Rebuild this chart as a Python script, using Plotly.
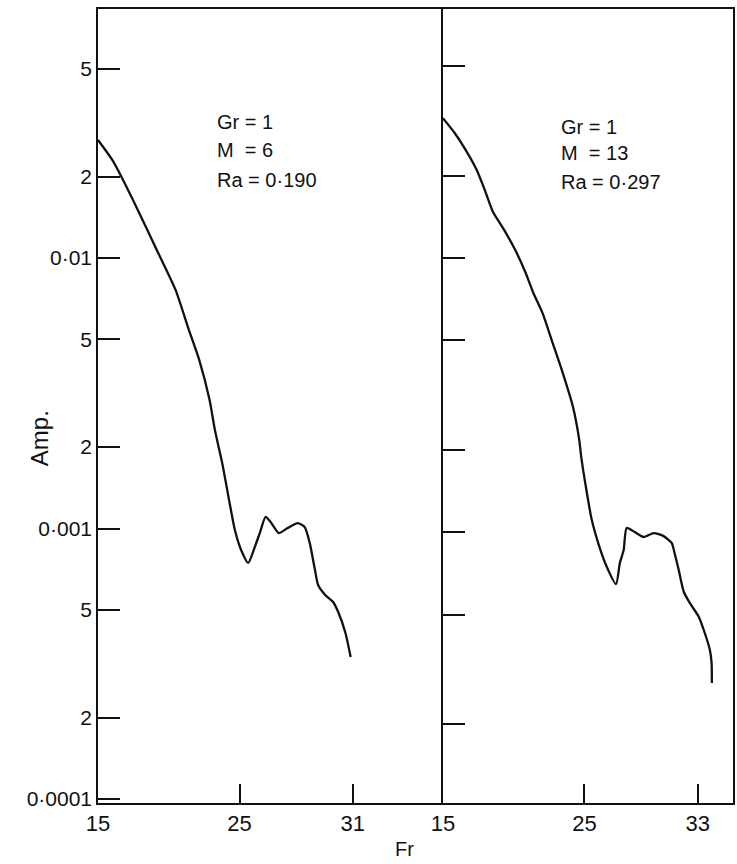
import plotly.graph_objects as go

# ---------------- data ----------------
# Left panel: Gr = 1, M = 6, Ra = 0.190
fr_left = [15.00, 16.02, 16.67, 17.82, 19.26, 20.48, 21.42, 22.15, 22.88,
           23.26, 23.77, 24.30, 24.67, 25.11, 25.61, 26.08, 26.43, 26.84,
           27.19, 27.77, 28.40, 29.10, 29.60, 29.96, 30.33, 30.55, 31.05,
           31.61, 31.97, 32.48, 32.85]
amp_left = [0.0273, 0.0230, 0.0199, 0.01503, 0.01042, 0.00762, 0.00542, 0.00420, 0.00299,
            0.00231, 0.00175, 0.00124, 0.000987, 0.000833, 0.000746, 0.000855, 0.000962, 0.001103,
            0.001057, 0.000962, 0.001004, 0.001047, 0.001013, 0.000883, 0.000702, 0.000618, 0.000568,
            0.000535, 0.000491, 0.000411, 0.000335]

# Right panel: Gr = 1, M = 13, Ra = 0.297
fr_right = [15.00, 15.83, 16.75, 17.39, 17.96, 18.54, 19.25, 20.11, 20.82,
            21.39, 22.04, 22.75, 23.47, 24.19, 24.63, 24.77, 25.14, 25.51,
            26.01, 26.58, 27.23, 27.50, 27.77, 27.98, 28.55, 29.18, 29.89,
            30.59, 31.16, 31.37, 31.66, 32.02, 32.44, 33.08, 33.50, 33.86,
            33.98, 34.00]
amp_right = [0.0324, 0.0286, 0.0241, 0.02094, 0.0177, 0.01472, 0.01285, 0.01069, 0.00889,
             0.00745, 0.00629, 0.00490, 0.00380, 0.00286, 0.00217, 0.00188, 0.00142, 0.00111,
             0.000898, 0.000745, 0.000645, 0.000771, 0.000859, 0.001035, 0.001000, 0.000959, 0.000991,
             0.000966, 0.000912, 0.000837, 0.000726, 0.000604, 0.000551, 0.000490, 0.000428, 0.000371,
             0.000333, 0.000281]

# tick values / labels
y_tickvals = [0.05, 0.02, 0.01, 0.005, 0.002, 0.001, 0.0005, 0.0002, 0.0001]
y_ticktext = ["5", "2", "0·01", "5", "2", "0·001", "5", "2", "0·0001"]
# the printed figure labels its third left-panel tick "31", drawn where 33 falls
x_tickvals_left = [15, 25, 33]
x_ticktext_left = ["15", "25", "31"]
x_tickvals_right = [15, 25, 33]
x_ticktext_right = ["15", "25", "33"]

text_left = ["Gr = 1", "M\u00a0 = 6", "Ra = 0·190"]
text_right = ["Gr = 1", "M\u00a0 = 13", "Ra = 0·297"]
y_title = "Amp."
x_title = "Fr"

# ---------------- figure ----------------
FONT = "Liberation Sans"
INK = "#111111"

fig = go.Figure()
fig.add_trace(go.Scatter(x=fr_left, y=amp_left, mode="lines",
                         line=dict(color=INK, width=2.3, shape="spline", smoothing=0.6),
                         xaxis="x", yaxis="y", showlegend=False, hoverinfo="skip"))
fig.add_trace(go.Scatter(x=fr_right, y=amp_right, mode="lines",
                         line=dict(color=INK, width=2.3, shape="spline", smoothing=0.6),
                         xaxis="x2", yaxis="y2", showlegend=False, hoverinfo="skip"))

split = 346 / 637

common_x = dict(showline=True, linecolor=INK, linewidth=1.5, mirror=True,
                ticks="inside", ticklen=19, tickwidth=1.5, tickcolor=INK,
                showgrid=False, zeroline=False,
                tickfont=dict(family=FONT, size=22, color=INK))
common_y = dict(type="log", showline=True, linecolor=INK, linewidth=1.5,
                ticks="inside", ticklen=22, tickwidth=1.5, tickcolor=INK,
                showgrid=False, zeroline=False,
                tickfont=dict(family=FONT, size=21, color=INK))

fig.update_layout(
    width=737, height=864,
    margin=dict(l=98, r=2, t=9, b=61),
    paper_bgcolor="white", plot_bgcolor="white",
    xaxis=dict(domain=[0, split], range=[15, 15 + 346 / 14.2], anchor="y",
               tickvals=x_tickvals_left, ticktext=x_ticktext_left, **common_x),
    yaxis=dict(domain=[0, 1], range=[-4.0148, -1.0795], anchor="x", mirror=False,
               tickvals=y_tickvals, ticktext=y_ticktext, **common_y),
    xaxis2=dict(domain=[split, 1], range=[15, 15 + 291 / 14.2], anchor="y2",
                tickvals=x_tickvals_right, ticktext=x_ticktext_right, **common_x),
    yaxis2=dict(domain=[0, 1], range=[-3.989, -1.0912], anchor="x2", mirror=True,
                tickvals=y_tickvals, showticklabels=False, **common_y),
)

def px_x(p):
    return (p - 98) / 637

def px_y(p):
    return (803 - p) / 794

annots = []
for txt, yy in zip(text_left, [122, 150, 180]):
    annots.append(dict(text=txt, x=px_x(215), y=px_y(yy), xref="paper", yref="paper",
                       xanchor="left", yanchor="middle", showarrow=False,
                       font=dict(family=FONT, size=20, color=INK)))
for txt, yy in zip(text_right, [127, 153, 182]):
    annots.append(dict(text=txt, x=px_x(560), y=px_y(yy), xref="paper", yref="paper",
                       xanchor="left", yanchor="middle", showarrow=False,
                       font=dict(family=FONT, size=20, color=INK)))
annots.append(dict(text=y_title, x=px_x(40), y=px_y(438), xref="paper", yref="paper",
                   xanchor="center", yanchor="middle", textangle=-90, showarrow=False,
                   font=dict(family=FONT, size=24, color=INK)))
annots.append(dict(text=x_title, x=px_x(405), y=px_y(849), xref="paper", yref="paper",
                   xanchor="center", yanchor="middle", showarrow=False,
                   font=dict(family=FONT, size=20, color=INK)))
fig.update_layout(annotations=annots)

fig.write_html("out.html")
